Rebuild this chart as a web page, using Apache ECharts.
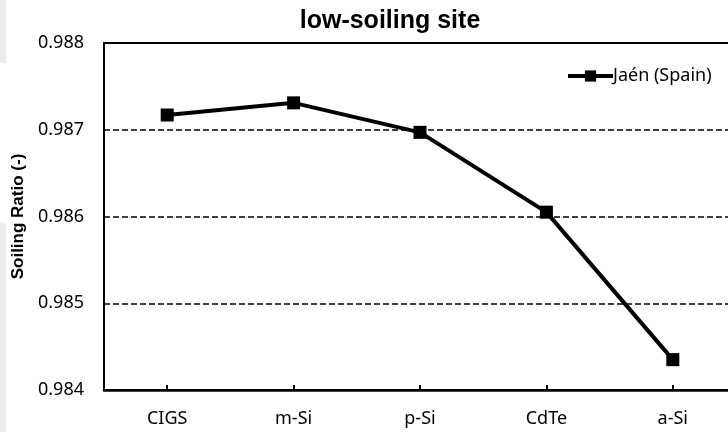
<!DOCTYPE html>
<html>
<head>
<meta charset="utf-8">
<script src="https://cdn.jsdelivr.net/npm/echarts@6/dist/echarts.min.js"></script>
<style>
html, body { margin: 0; padding: 0; background: #fff; }
#chart { width: 728px; height: 432px; }
</style>
</head>
<body>
<div id="chart"></div>
<script>
// 数据
var categories = ['CIGS', 'm-Si', 'p-Si', 'CdTe', 'a-Si'];
var jaenValues = [0.98717, 0.98731, 0.98697, 0.98605, 0.98435];
var seriesName = 'Jaén (Spain)';

var font = 'Noto Sans';
var myChart = echarts.init(document.getElementById('chart'));
var option = {
	animation: false,
	backgroundColor: '#fff',
	title: {
		text: 'low-soiling site',
		left: 385,
		top: 4,
		textAlign: 'center',
		textStyle: { fontFamily: 'Liberation Sans', fontWeight: 'bold', fontSize: 25, color: '#000' }
	},
	legend: {
		data: [seriesName],
		left: 561,
		top: 62,
		itemWidth: 45,
		itemHeight: 14,
		itemGap: 0,
		lineStyle: { width: 4, color: '#000' },
		textStyle: { fontFamily: font, fontSize: 18, color: '#000', padding: [0, 0, 0, -5] }
	},
	graphic: [
		{ type: 'rect', shape: { x: 0, y: 0, width: 6, height: 63 }, style: { fill: '#ebebeb' } },
		{ type: 'rect', shape: { x: 0, y: 223, width: 6, height: 209 }, style: { fill: '#ebebeb' } }
	],
	grid: {
		left: 104,
		right: -8,
		top: 43,
		bottom: 42,
		outerBoundsMode: 'none',
		show: true,
		borderColor: '#000',
		borderWidth: 2,
		backgroundColor: 'transparent'
	},
	xAxis: {
		type: 'category',
		data: categories,
		axisLine: { lineStyle: { color: '#000', width: 2.5 } },
		axisTick: { show: true, inside: true, length: 5, alignWithLabel: true, lineStyle: { color: '#000', width: 2 } },
		axisLabel: { fontFamily: font, fontSize: 18, color: '#000', margin: 20 }
	},
	yAxis: {
		type: 'value',
		min: 0.984,
		max: 0.988,
		interval: 0.001,
		name: 'Soiling Ratio (-)',
		nameLocation: 'middle',
		nameGap: 76,
		nameTextStyle: { fontFamily: 'Liberation Sans', fontWeight: 'bold', fontSize: 17, color: '#000' },
		axisLine: { show: true, lineStyle: { color: '#000', width: 2 } },
		axisTick: { show: false },
		axisLabel: {
			fontFamily: font, fontSize: 18, color: '#000', margin: 20,
			formatter: function (v) { return v.toFixed(3); }
		},
		splitLine: { show: true, lineStyle: { color: '#000', width: 1.5, type: [6, 3] } }
	},
	series: [{
		name: seriesName,
		type: 'line',
		data: jaenValues,
		symbol: 'rect',
		symbolSize: 13,
		lineStyle: { color: '#000', width: 4 },
		itemStyle: { color: '#000' }
	}]
};
myChart.setOption(option);
</script>
</body>
</html>
